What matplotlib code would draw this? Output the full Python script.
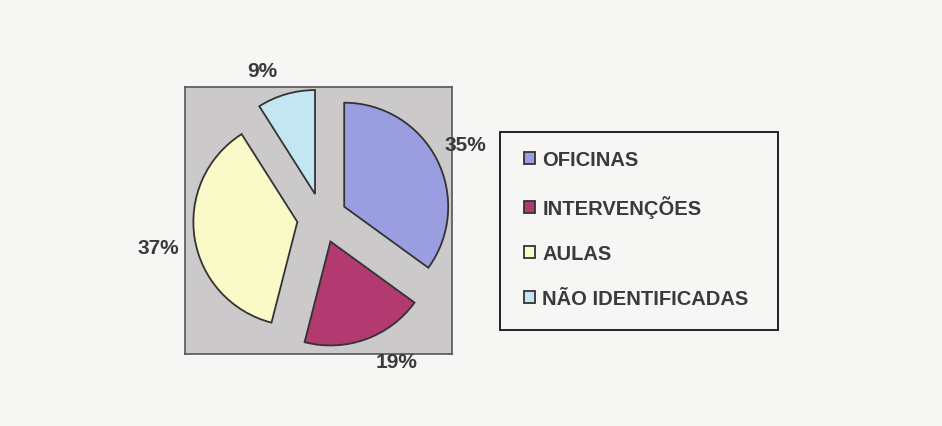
import matplotlib.pyplot as plt
from matplotlib.patches import Rectangle

categorias = ['OFICINAS', 'INTERVENÇÕES', 'AULAS', 'NÃO IDENTIFICADAS']
percentuais = [35, 19, 37, 9]
cores = ['#9a9de0', '#b23a70', '#fafac8', '#c4e6f2']

plt.rcParams['font.family'] = ['Liberation Sans', 'DejaVu Sans']

fig = plt.figure(figsize=(9.42, 4.27), dpi=100)
fig.patch.set_facecolor('#f6f6f4')

# caixa cinza do grafico
ax = fig.add_axes([185 / 942, 1 - 355 / 427, 267 / 942, 267 / 427])
ax.set_facecolor('#cbc9c9')
for s in ax.spines.values():
    s.set_color('#555555')
    s.set_linewidth(1.2)

wedges, textos = ax.pie(percentuais, colors=cores, startangle=90, counterclock=False,
                        explode=[0.24] * 4, radius=1.0,
                        labels=[f'{p}%' for p in percentuais], labeldistance=1.42,
                        wedgeprops=dict(edgecolor='#333333', linewidth=1.3),
                        textprops=dict(fontsize=15, fontweight='bold', color='#3a3a3a'))
ax.set_aspect('equal')
ax.set_xlim(-1.317, 1.25)
ax.set_ylim(-1.308, 1.26)
ax.set_frame_on(True)
ax.set_xticks([])
ax.set_yticks([])

# ajuste manual das posicoes dos rotulos
pos = [(1.38, 0.71), (0.72, -1.38), (-1.57, -0.28), (-0.57, 1.42)]
for t, (x, y) in zip(textos, pos):
    t.set_position((x, y))
    t.set_ha('center')
    t.set_va('center')
    t.set_clip_on(False)

# moldura da legenda
fig.patches.append(Rectangle((500 / 942, 1 - 331 / 427), 278 / 942, 198 / 427,
                             transform=fig.transFigure, facecolor='#f6f6f4',
                             edgecolor='#222222', linewidth=1.4, zorder=0))

leg = fig.legend(wedges, categorias, loc='upper left',
                 bbox_to_anchor=(524 / 942, 1 - 151 / 427),
                 frameon=False, labelspacing=1.3, handlelength=0.55,
                 handleheight=0.55, handletextpad=0.35, borderpad=0,
                 borderaxespad=0,
                 prop=dict(size=14.5, weight='bold'))
for t in leg.get_texts():
    t.set_color('#3a3a3a')

fig.savefig('out.png', dpi=100, facecolor=fig.get_facecolor())
